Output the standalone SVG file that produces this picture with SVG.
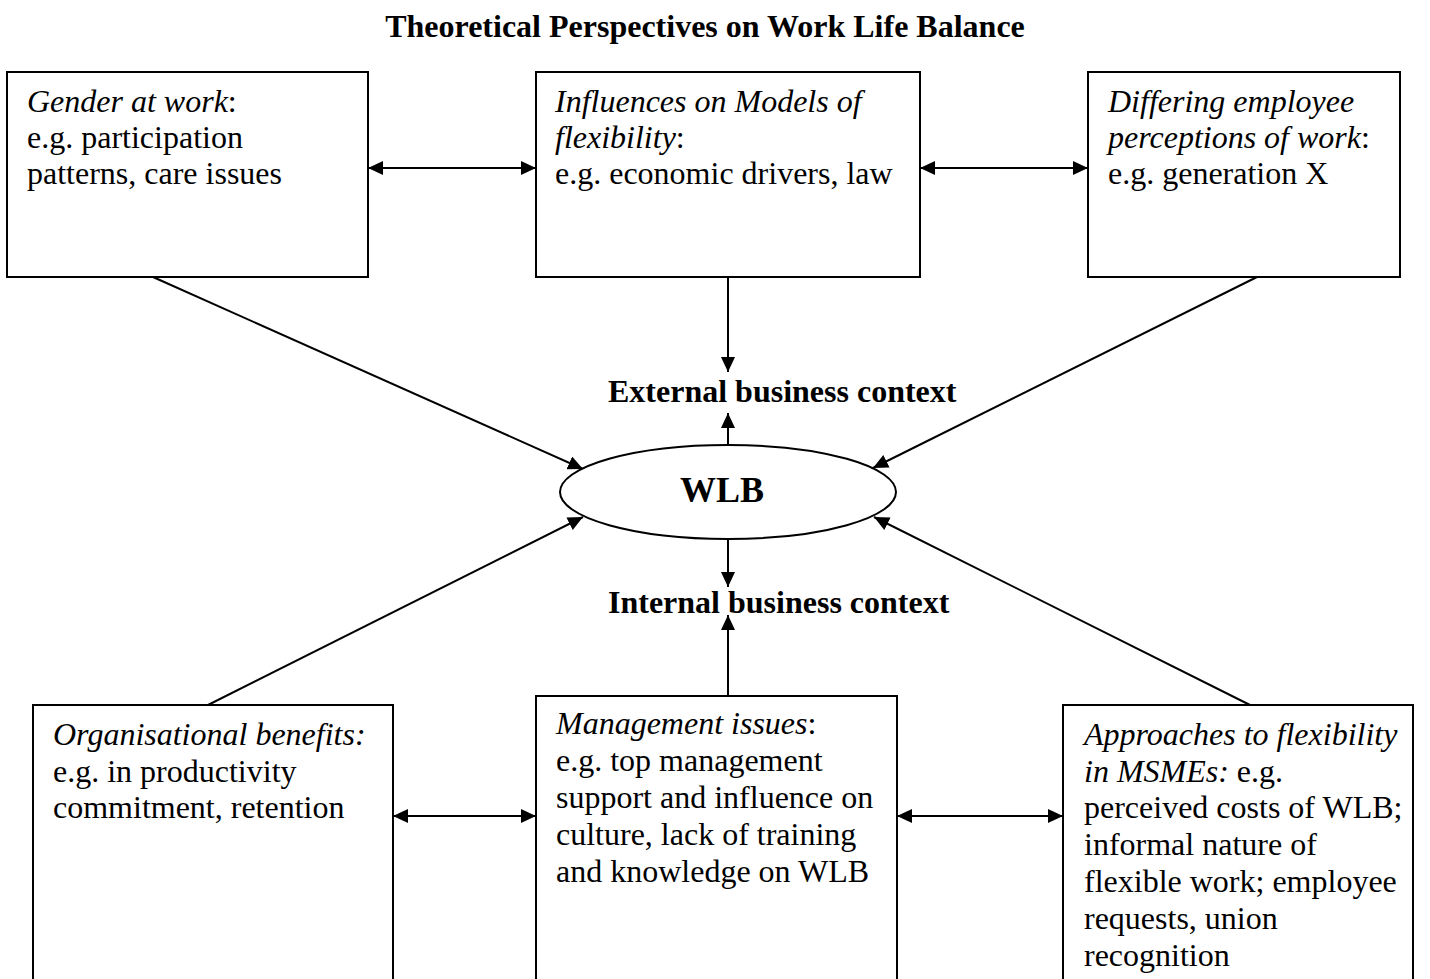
<svg xmlns="http://www.w3.org/2000/svg" width="1430" height="979" viewBox="0 0 1430 979">
<style>
text{font-family:"Liberation Serif","Times New Roman",serif;font-size:32px;fill:#000}
.b{font-weight:bold}
.i{font-style:italic}
.box{fill:#fff;stroke:#000;stroke-width:2}
.ln{stroke:#000;stroke-width:2;fill:none}
</style>
<defs>
<marker id="ah" viewBox="0 0 15 14" markerWidth="15" markerHeight="14" refX="15" refY="7" orient="auto-start-reverse" markerUnits="userSpaceOnUse">
<path d="M0,0 L15,7 L0,14 Z" fill="#000"/>
</marker>
</defs>
<rect width="1430" height="979" fill="#fff"/>
<text class="b" x="705" y="37" text-anchor="middle">Theoretical Perspectives on Work Life Balance</text>

<g id="connectors">
<line class="ln" x1="368" y1="168" x2="536" y2="168" marker-start="url(#ah)" marker-end="url(#ah)"/>
<line class="ln" x1="920" y1="168" x2="1088" y2="168" marker-start="url(#ah)" marker-end="url(#ah)"/>
<line class="ln" x1="393" y1="816" x2="536" y2="816" marker-start="url(#ah)" marker-end="url(#ah)"/>
<line class="ln" x1="897" y1="816" x2="1063" y2="816" marker-start="url(#ah)" marker-end="url(#ah)"/>
<line class="ln" x1="728" y1="277" x2="728" y2="372" marker-end="url(#ah)"/>
<line class="ln" x1="728" y1="445" x2="728" y2="413" marker-end="url(#ah)"/>
<line class="ln" x1="728" y1="540" x2="728" y2="587" marker-end="url(#ah)"/>
<line class="ln" x1="728" y1="703" x2="728" y2="615" marker-end="url(#ah)"/>
<line class="ln" x1="153" y1="277" x2="583" y2="469" marker-end="url(#ah)"/>
<line class="ln" x1="1257" y1="277" x2="873" y2="468" marker-end="url(#ah)"/>
<line class="ln" x1="204" y1="707" x2="583" y2="517" marker-end="url(#ah)"/>
<line class="ln" x1="1256" y1="708" x2="874" y2="517" marker-end="url(#ah)"/>
</g>

<g id="gender">
<rect class="box" x="7" y="72" width="361" height="205"/>
<text x="27" y="112"><tspan class="i">Gender at work</tspan>:</text>
<text x="27" y="148">e.g. participation</text>
<text x="27" y="184">patterns, care issues</text>
</g>

<g id="influences">
<rect class="box" x="536" y="72" width="384" height="205"/>
<text x="555" y="112" class="i">Influences on Models of</text>
<text x="555" y="148"><tspan class="i">flexibility</tspan>:</text>
<text x="555" y="184">e.g. economic drivers, law</text>
</g>

<g id="differing">
<rect class="box" x="1088" y="72" width="312" height="205"/>
<text x="1108" y="112" class="i">Differing employee</text>
<text x="1108" y="148"><tspan class="i">perceptions of work</tspan>:</text>
<text x="1108" y="184">e.g. generation X</text>
</g>

<g id="external">
<text class="b" x="608" y="402">External business context</text>
</g>

<g id="wlb">
<ellipse class="box" cx="728" cy="492" rx="168" ry="47"/>
<text class="b" x="680" y="502" style="font-size:36px">WLB</text>
</g>

<g id="internal">
<text class="b" x="608" y="613">Internal business context</text>
</g>

<g id="organisational">
<rect class="box" x="33" y="705" width="360" height="290"/>
<text x="53" y="745" class="i">Organisational benefits:</text>
<text x="53" y="782">e.g. in productivity</text>
<text x="53" y="818">commitment, retention</text>
</g>

<g id="management">
<rect class="box" x="536" y="696" width="361" height="300"/>
<text x="556" y="734"><tspan class="i">Management issues</tspan>:</text>
<text x="556" y="771">e.g. top management</text>
<text x="556" y="808">support and influence on</text>
<text x="556" y="845">culture, lack of training</text>
<text x="556" y="882">and knowledge on WLB</text>
</g>

<g id="approaches">
<rect class="box" x="1063" y="705" width="350" height="290"/>
<text x="1084" y="745" class="i">Approaches to flexibility</text>
<text x="1084" y="782"><tspan class="i">in MSMEs:</tspan> e.g.</text>
<text x="1084" y="818">perceived costs of WLB;</text>
<text x="1084" y="855">informal nature of</text>
<text x="1084" y="892">flexible work; employee</text>
<text x="1084" y="929">requests, union</text>
<text x="1084" y="966">recognition</text>
</g>
</svg>
